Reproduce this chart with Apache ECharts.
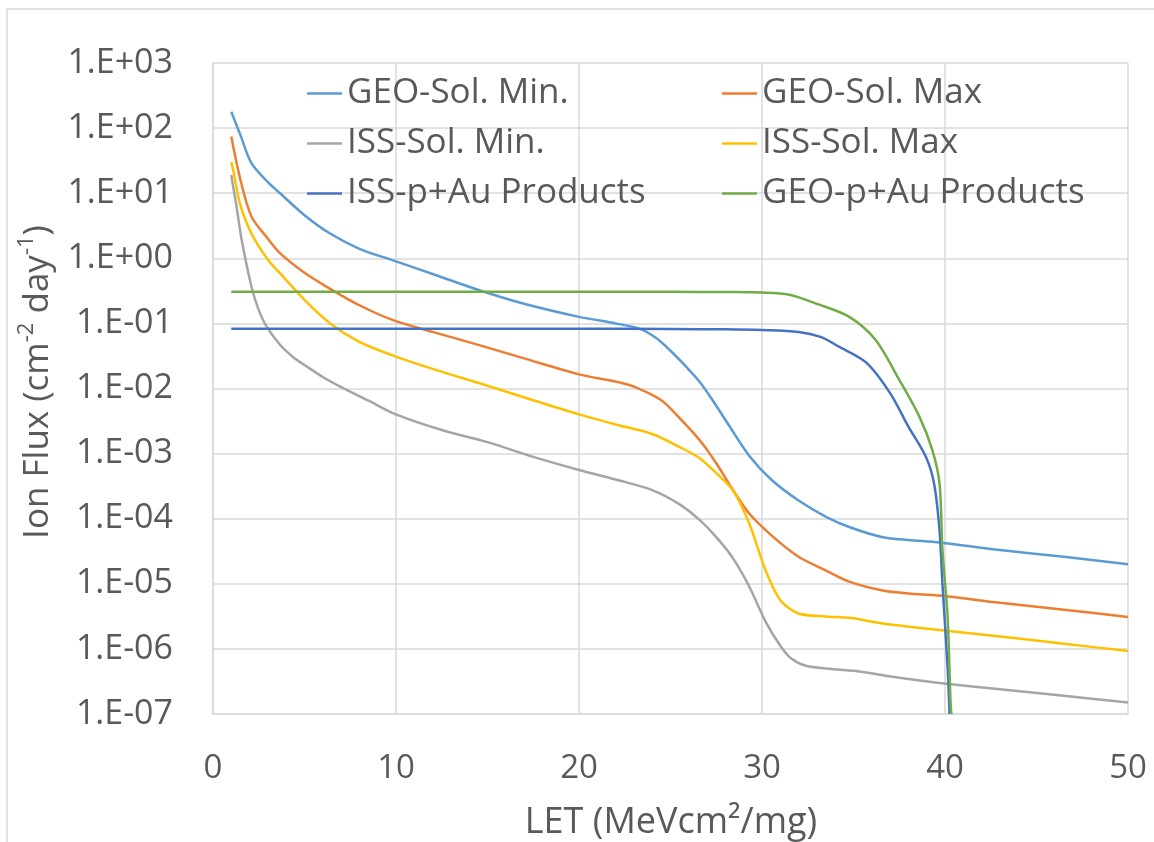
<!DOCTYPE html>
<html>
<head>
<meta charset="utf-8">
<script src="https://cdn.jsdelivr.net/npm/echarts@6/dist/echarts.min.js"></script>
<style>
html,body{margin:0;padding:0;background:#fff;}
#chart{width:1154px;height:842px;}
</style>
</head>
<body>
<div id="chart"></div>
<script>
// ---- Data (LET in MeV·cm²/mg, Ion flux in cm^-2 day^-1) ----
const seriesNames = ['GEO-Sol. Min.', 'GEO-Sol. Max', 'ISS-Sol. Min.', 'ISS-Sol. Max', 'ISS-p+Au Products', 'GEO-p+Au Products'];

const geoSolMin = [[1,178],[1.5,78],[2.1,29],[3,14.8],[3.66,10],[5,4.6],[6.4,2.4],[8,1.4],[9.84,0.93],[12,0.575],[14.6,0.32],[17,0.2],[20,0.126],[22,0.1],[23.3,0.083],[24.2,0.06],[25,0.038],[25.8,0.0224],[26.6,0.0126],[27.4,6.0e-3],[28.2,2.7e-3],[29.3,9.3e-4],[30.5,4.0e-4],[32,1.9e-4],[33.5,1.07e-4],[34.8,7.4e-5],[36.6,5.2e-5],[38,4.7e-5],[39.7,4.3e-5],[43,3.3e-5],[46.5,2.6e-5],[50,2.0e-5]];

const geoSolMax = [[1,74],[1.5,16],[2.1,4.4],[3,2.0],[3.66,1.2],[5,0.6],[6.4,0.34],[8,0.19],[9.84,0.112],[12,0.074],[14.6,0.046],[17,0.029],[20,0.0165],[22,0.0128],[23,0.0107],[24.5,6.6e-3],[25.5,3.5e-3],[26.6,1.6e-3],[27.5,7.1e-4],[28.4,2.8e-4],[29.3,1.2e-4],[30.5,5.6e-5],[32,2.6e-5],[33.5,1.6e-5],[34.8,1.07e-5],[36.6,7.9e-6],[38,7.1e-6],[39.7,6.6e-6],[43,5.1e-6],[46.5,4e-6],[50,3.1e-6]];

const issSolMin = [[1,19],[1.1,12.6],[1.29,6.2],[1.57,1.9],[2.11,0.36],[2.5,0.16],[2.93,0.089],[3.66,0.047],[4.4,0.03],[5,0.023],[6,0.015],[7,0.0105],[8.5,6.5e-3],[10,4.0e-3],[12.5,2.3e-3],[15,1.5e-3],[17.5,8.9e-4],[20,5.6e-4],[22,4.0e-4],[24,2.75e-4],[25.5,1.66e-4],[26.6,9.5e-5],[27.5,5.2e-5],[28.4,2.5e-5],[29.3,9.1e-6],[30.2,2.6e-6],[31,1.12e-6],[31.6,7.1e-7],[32.4,5.5e-7],[33.8,4.9e-7],[35.3,4.5e-7],[37.5,3.6e-7],[39.7,3.0e-7],[43,2.4e-7],[46.5,1.9e-7],[50,1.5e-7]];

const issSolMax = [[1,30],[1.1,23],[1.47,7],[2.1,2.4],[3,0.95],[3.66,0.59],[5,0.23],[6.4,0.1],[8,0.052],[9.84,0.032],[12,0.02],[15,0.011],[17.5,6.6e-3],[20,4e-3],[22,2.8e-3],[24,2e-3],[25.5,1.26e-3],[26.6,8.5e-4],[27.5,5e-4],[28.4,2.75e-4],[29.3,8.5e-5],[30.2,1.6e-5],[31,5.6e-6],[32,3.5e-6],[33.5,3.15e-6],[34.8,3.0e-6],[36.6,2.45e-6],[39.7,1.95e-6],[43,1.55e-6],[46.5,1.2e-6],[50,9.3e-7]];

const issPAu = [[1,0.083],[5,0.083],[10,0.083],[15,0.083],[20,0.083],[25,0.082],[28,0.081],[30,0.079],[32,0.074],[33.2,0.062],[34.2,0.044],[35.7,0.025],[37,8.5e-3],[38,2.6e-3],[38.96,8.9e-4],[39.4,3.5e-4],[39.7,6.7e-5],[39.86,1e-5],[40.14,5.4e-7],[40.25,1e-7]];

const geoPAu = [[1,0.305],[5,0.305],[10,0.305],[15,0.305],[20,0.305],[25,0.305],[28,0.303],[30,0.298],[31.5,0.276],[33,0.2],[34.77,0.126],[36.2,0.056],[37.5,0.0136],[38.6,3.7e-3],[39.3,1.15e-3],[39.7,3.5e-4],[39.86,3.3e-5],[40.14,3.2e-6],[40.3,1.6e-7],[40.35,1e-7]];

const seriesData = [geoSolMin, geoSolMax, issSolMin, issSolMax, issPAu, geoPAu];
const seriesColors = ['#5b9bd5', '#ed7d31', '#a5a5a5', '#ffc000', '#4472c4', '#70ad47'];

const xTicks = [0, 10, 20, 30, 40, 50];
const yTickLabels = ['1.E-07','1.E-06','1.E-05','1.E-04','1.E-03','1.E-02','1.E-01','1.E+00','1.E+01','1.E+02','1.E+03'];

const FONT = '"Open Sans", "Noto Sans", sans-serif';
const TXT = '#595959';
const GRID = '#d9d9d9';

const chart = echarts.init(document.getElementById('chart'), null, {renderer: 'canvas'});

const legendText = {color: TXT, fontFamily: FONT, fontSize: 35, lineHeight: 40};

const option = {
  backgroundColor: '#ffffff',
  animation: false,
  grid: {left: 213, right: 26, top: 63, bottom: 128, containLabel: false},
  xAxis: {
    type: 'value',
    min: xTicks[0], max: xTicks[xTicks.length - 1], interval: 10,
    axisLine: {show: true, lineStyle: {color: GRID, width: 1.5}},
    axisTick: {show: false},
    splitLine: {show: true, lineStyle: {color: GRID, width: 1.5}},
    axisLabel: {color: TXT, fontFamily: FONT, fontSize: 33, margin: 38}
  },
  yAxis: {
    type: 'log', logBase: 10, min: 1e-7, max: 1e3, interval: 1,
    axisLine: {show: true, lineStyle: {color: GRID, width: 1.5}},
    axisTick: {show: false},
    splitLine: {show: true, lineStyle: {color: GRID, width: 1.5}},
    minorTick: {show: false},
    axisLabel: {
      color: TXT, fontFamily: FONT, fontSize: 34, margin: 40, interval: 0,
      formatter: function (v) { return yTickLabels[Math.round(Math.log10(v)) + 7]; }
    }
  },
  legend: [
    {
      data: [seriesNames[0], seriesNames[2], seriesNames[4]],
      orient: 'vertical', left: 307, top: 73.5, padding: 0, icon: 'rect', itemWidth: 35, itemHeight: 2.5, itemGap: 10,
      textStyle: legendText
    },
    {
      data: [seriesNames[1], seriesNames[3], seriesNames[5]],
      orient: 'vertical', left: 722, top: 73.5, padding: 0, icon: 'rect', itemWidth: 35, itemHeight: 2.5, itemGap: 10,
      textStyle: legendText
    }
  ],
  graphic: [
    {
      type: 'rect', silent: true, z: -10,
      shape: {x: 7, y: 9, width: 1170, height: 900},
      style: {fill: 'none', stroke: '#d9d9d9', lineWidth: 1.5}
    },
    {
      type: 'text', silent: true,
      x: 671, y: 823,
      style: {
        text: 'LET (MeVcm²/mg)', fill: TXT, font: '36px ' + FONT,
        align: 'center', verticalAlign: 'middle'
      }
    },
    {
      type: 'text', silent: true,
      x: 38, y: 382, rotation: Math.PI / 2,
      style: {
        text: '{a|Ion Flux (cm}{s|-2}{a| day}{s|-1}{a|)}',
        align: 'center', verticalAlign: 'middle',
        rich: {
          a: {fill: TXT, fontFamily: FONT, fontSize: 35, lineHeight: 44},
          s: {fill: TXT, fontFamily: FONT, fontSize: 22, lineHeight: 28, verticalAlign: 'top'}
        }
      }
    }
  ],
  series: seriesNames.map(function (name, i) {
    return {
      name: name,
      type: 'line',
      data: seriesData[i],
      showSymbol: false,
      symbol: 'none',
      smooth: 0.3,
      clip: true,
      lineStyle: {color: seriesColors[i], width: 2.5},
      itemStyle: {color: seriesColors[i]},
      z: 2 + i
    };
  })
};

chart.setOption(option);
</script>
</body>
</html>
